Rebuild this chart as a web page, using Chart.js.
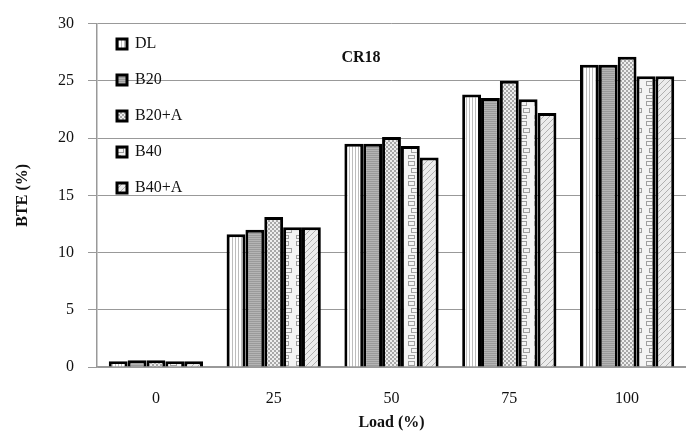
<!DOCTYPE html>
<html>
<head>
<meta charset="utf-8">
<script src="https://cdn.jsdelivr.net/npm/chart.js@4.4.1/dist/chart.umd.min.js"></script>
<style>
  html, body { margin:0; padding:0; background:#fff; }
  #wrap { width:686px; height:444px; position:relative; }
</style>
</head>
<body>
<div id="wrap"><canvas id="chart"></canvas></div>
<script>
// BTE vs load, CR18 - grouped bars with grayscale hatch fills
const loads = ['0', '25', '50', '75', '100'];
const dl    = [0.5, 11.6, 19.5, 23.8, 26.4];
const b20   = [0.6, 12.0, 19.5, 23.5, 26.4];
const b20a  = [0.6, 13.1, 20.1, 25.0, 27.1];
const b40   = [0.5, 12.2, 19.3, 23.4, 25.4];
const b40a  = [0.5, 12.2, 18.3, 22.2, 25.4];
const yTicks = [0, 5, 10, 15, 20, 25, 30];

const SERIF = '"Liberation Serif", "Times New Roman", serif';

function makePattern(w, h, draw){
  const c = document.createElement('canvas');
  c.width = w; c.height = h;
  const g = c.getContext('2d');
  draw(g, w, h);
  return g.createPattern(c, 'repeat');
}

// DL: white with thin vertical gray stripes
const patDL = makePattern(6, 6, (g,w,h) => {
  g.fillStyle = '#fff'; g.fillRect(0,0,w,h);
  g.fillStyle = '#bdbdbd'; g.fillRect(1,0,1,h); g.fillRect(4,0,1,h);
});
// B20: mid gray with fine horizontal lines
const patB20 = makePattern(4, 4, (g,w,h) => {
  g.fillStyle = '#b4b4b4'; g.fillRect(0,0,w,h);
  g.fillStyle = '#9a9a9a'; g.fillRect(0,1,w,1); g.fillRect(0,3,w,1);
});
// B20+A: checker dither
const patB20A = makePattern(4, 4, (g,w,h) => {
  g.fillStyle = '#eeeeee'; g.fillRect(0,0,w,h);
  g.fillStyle = '#a8a8a8';
  g.fillRect(0,0,2,2); g.fillRect(2,2,2,2);
});
// B40: white with small gray chain shapes
const patB40 = makePattern(14, 20, (g,w,h) => {
  g.fillStyle = '#f4f4f4'; g.fillRect(0,0,w,h);
  g.strokeStyle = '#a0a0a0'; g.lineWidth = 1;
  g.strokeRect(2.5,1.5,6,4);
  g.strokeRect(5.5,8.5,6,4);
  g.strokeRect(2.5,15.5,6,3);
});
// B40+A: light diagonal hatch
const patB40A = makePattern(6, 6, (g,w,h) => {
  g.fillStyle = '#ececec'; g.fillRect(0,0,w,h);
  g.strokeStyle = '#b0b0b0'; g.lineWidth = 1;
  g.beginPath();
  g.moveTo(0,6); g.lineTo(6,0);
  g.moveTo(-3,3); g.lineTo(3,-3);
  g.moveTo(3,9); g.lineTo(9,3);
  g.stroke();
});

function ds(label, data, fill){
  return { label, data, backgroundColor: fill, borderColor:'#000', borderWidth:3,
           borderSkipped:'bottom', categoryPercentage:0.8, barPercentage:1.0 };
}

const innerTitle = {
  id:'innerTitle',
  afterDraw(chart){
    const ctx = chart.ctx, a = chart.chartArea;
    ctx.save();
    ctx.font = 'bold 16px ' + SERIF;
    ctx.fillStyle = '#111';
    ctx.textAlign = 'center';
    ctx.textBaseline = 'middle';
    ctx.fillText('CR18', a.left + 264, a.top + 34);
    ctx.restore();
  }
};

new Chart(document.getElementById('chart'), {
  type:'bar',
  data:{
    labels: loads,
    datasets:[
      ds('DL', dl, patDL),
      ds('B20', b20, patB20),
      ds('B20+A', b20a, patB20A),
      ds('B40', b40, patB40),
      ds('B40+A', b40a, patB40A)
    ]
  },
  options:{
    responsive:true, maintainAspectRatio:false, animation:false,
    layout:{ padding:{ top:19, right:0, left:0, bottom:0 } },
    plugins:{
      legend:{
        position:'chartArea', align:'start',
        title:{ display:true, text:' ', padding:{ top:0, bottom:4 }, font:{ size:10 } },
        labels:{ boxWidth:10, boxHeight:10, padding:20, color:'#111',
                 font:{ family:SERIF, size:16 } }
      },
      tooltip:{ enabled:false }
    },
    scales:{
      x:{
        grid:{ drawOnChartArea:false, drawTicks:false, color:'#999' },
        border:{ display:true, color:'#999', width:1.5 },
        ticks:{ padding:22, color:'#111', font:{ family:SERIF, size:16 } },
        title:{ display:true, text:'Load (%)', color:'#111', padding:{ top:2, bottom:12 },
                font:{ family:SERIF, size:16, weight:'bold' } },
        afterFit(s){ s.height = 77; }
      },
      y:{
        min:0, max:30,
        afterBuildTicks(s){ s.ticks = yTicks.map(v => ({ value:v })); },
        grid:{ color:'#999', lineWidth:1, tickLength:9 },
        border:{ display:true, color:'#999', width:1.5 },
        ticks:{ padding:14, color:'#111', font:{ family:SERIF, size:16 } },
        title:{ display:true, text:'BTE (%)', color:'#111', padding:{ top:13, bottom:4 },
                font:{ family:SERIF, size:16, weight:'bold' } },
        afterFit(s){ s.width = 97; }
      }
    }
  },
  plugins:[innerTitle]
});
</script>
</body>
</html>
